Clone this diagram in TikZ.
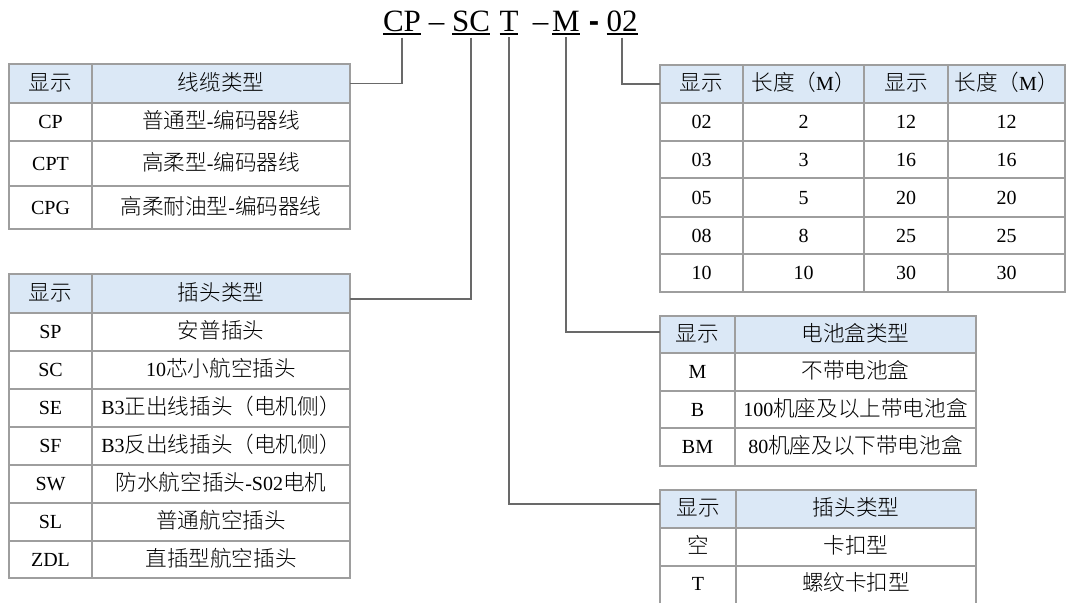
\documentclass[tikz,border=0pt]{standalone}
\usepackage{fontspec}
\setmainfont{Liberation Serif}
\newfontfamily\zh[Scale=1.08,UprightFont=* Light]{Noto Sans CJK SC}
\newfontfamily\hsans{Liberation Sans}
\definecolor{headblue}{RGB}{219,232,246}
\definecolor{gridgray}{RGB}{158,158,158}
\definecolor{linkgray}{RGB}{105,105,105}
\newcommand\uline[1]{\leavevmode\vtop{\hbox{#1}\kern1.4pt\hrule height1.6pt}}

\begin{document}
\begin{tikzpicture}[x=1pt,y=-1pt,
  every node/.style={inner sep=0pt,outer sep=0pt,text height=16pt,text depth=3pt,
    font=\fontsize{20}{24}\selectfont},
  part/.style={anchor=base,outer sep=2.5pt,text height=,text depth=,
    font=\fontsize{31}{36}\selectfont},
  headbox/.style={fill=headblue},
  grid/.style={draw=gridgray,line width=1.2pt},
  link/.style={draw=linkgray,line width=1.4pt}]
\useasboundingbox (0,0) rectangle (1067,603);

\node[part] (cp) at (402,31.7) {\uline{CP}};
\node[part] (dashA) at (436.5,31.7) {--};
\node[part] (sc) at (471,31.7) {\uline{SC}};
\node[part] (t) at (509,31.7) {\uline{T}};
\node[part] (dashB) at (540.5,31.7) {--};
\node[part] (m) at (566,31.7) {\uline{M}};
\node[part] (dashC) at (594,31.7) {\hsans\bfseries -};
\node[part] (len) at (622,31.7) {\uline{02}};

\node[headbox,minimum width=341pt,minimum height=39pt] (cabhead) at (179.5,83.5) {};
\draw[grid] (9,64) rectangle (350,229);
\foreach \y in {103,141,186} \draw[grid] (9,\y) -- (350,\y);
\draw[grid] (92,64) -- (92,229);
\foreach \y/\a/\b [count=\i from 0] in {83.5/{\zh 显示}/{\zh 线缆类型},
    122/CP/{{\zh 普通型}-{\zh 编码器线}},
    163.5/CPT/{{\zh 高柔型}-{\zh 编码器线}},
    207.5/CPG/{{\zh 高柔耐油型}-{\zh 编码器线}}}
  {\node (cab-\i-a) at (50.5,\y) {\a};
   \node (cab-\i-b) at (221,\y) {\b};}

\node[headbox,minimum width=341pt,minimum height=39pt] (plughead) at (179.5,293.5) {};
\draw[grid] (9,274) rectangle (350,578);
\foreach \y in {313,351,389,427,465,503,541} \draw[grid] (9,\y) -- (350,\y);
\draw[grid] (92,274) -- (92,578);
\foreach \y/\a/\b [count=\i from 0] in {293.5/{\zh 显示}/{\zh 插头类型},
    332/SP/{\zh 安普插头},
    370/SC/{10{\zh 芯小航空插头}},
    408/SE/{B3{\zh 正出线插头（电机侧）}},
    446/SF/{B3{\zh 反出线插头（电机侧）}},
    484/SW/{{\zh 防水航空插头}-S02{\zh 电机}},
    522/SL/{\zh 普通航空插头},
    559.5/ZDL/{\zh 直插型航空插头}}
  {\node (plug-\i-a) at (50.5,\y) {\a};
   \node (plug-\i-b) at (221,\y) {\b};}

\node[headbox,minimum width=405pt,minimum height=38pt] (lenhead) at (862.5,84) {};
\draw[grid] (660,65) rectangle (1065,292);
\foreach \y in {103,141,178,217,254} \draw[grid] (660,\y) -- (1065,\y);
\foreach \x in {743,864,948} \draw[grid] (\x,65) -- (\x,292);
\foreach \y/\a/\b/\c/\d [count=\i from 0] in {84/{\zh 显示}/{{\zh 长度（}M{\zh ）}}/{\zh 显示}/{{\zh 长度（}M{\zh ）}},
    122/02/2/12/12, 159.5/03/3/16/16, 197.5/05/5/20/20,
    235.5/08/8/25/25, 273/10/10/30/30}
  {\node (len-\i-a) at (701.5,\y) {\a};
   \node (len-\i-b) at (803.5,\y) {\b};
   \node (len-\i-c) at (906,\y) {\c};
   \node (len-\i-d) at (1006.5,\y) {\d};}

\node[headbox,minimum width=316pt,minimum height=37pt] (bathead) at (818,334.5) {};
\draw[grid] (660,316) rectangle (976,466);
\foreach \y in {353,391,428} \draw[grid] (660,\y) -- (976,\y);
\draw[grid] (735,316) -- (735,466);
\foreach \y/\a/\b [count=\i from 0] in {334.5/{\zh 显示}/{\zh 电池盒类型},
    372/M/{\zh 不带电池盒},
    409.5/B/{100{\zh 机座及以上带电池盒}},
    447/BM/{80{\zh 机座及以下带电池盒}}}
  {\node (bat-\i-a) at (697.5,\y) {\a};
   \node (bat-\i-b) at (855.5,\y) {\b};}

\node[headbox,minimum width=316pt,minimum height=38pt] (lockhead) at (818,509) {};
\draw[grid] (660,603) -- (660,490) -- (976,490) -- (976,603);
\foreach \y in {528,566} \draw[grid] (660,\y) -- (976,\y);
\draw[grid] (736,490) -- (736,603);
\foreach \y/\a/\b [count=\i from 0] in {509/{\zh 显示}/{\zh 插头类型},
    547/{\zh 空}/{\zh 卡扣型},
    584/T/{\zh 螺纹卡扣型}}
  {\node (lock-\i-a) at (698,\y) {\a};
   \node (lock-\i-b) at (856,\y) {\b};}

\draw[link] (cp.south) |- (cabhead.east);
\draw[link] (sc.south) |- ([yshift=-5.5pt]plughead.east);
\draw[link] (t.south) |- ([yshift=5pt]lockhead.west);
\draw[link] (m.south) |- ([yshift=2.5pt]bathead.west);
\draw[link] (len.south) |- (lenhead.west);
\end{tikzpicture}
\end{document}
